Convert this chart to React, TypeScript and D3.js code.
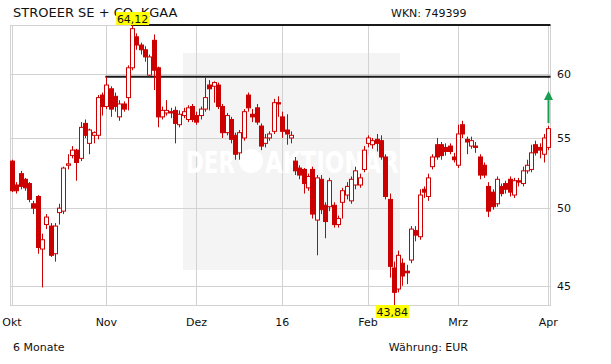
import React from "react";
import * as d3 from "d3";

const title = "STROEER SE + CO. KGAA";
const wkn = "WKN: 749399";
const periodLabel = "6 Monate";
const currencyLabel = "Währung: EUR";

const openVals = [
  53.3, 51.6, 52.4, 52.0, 51.7, 50.3, 50.8, 47.3, 48.9, 48.8,
  47.0, 49.7, 49.8, 53.0, 53.7, 54.1, 53.5, 56.1, 54.6, 55.2,
  55.2, 58.3, 57.4, 58.8, 58.2, 56.6, 57.6, 58.1, 60.5, 63.1,
  62.4, 62.0, 59.9, 62.8, 60.5, 56.6, 56.9, 57.0, 57.1, 56.0,
  56.7, 56.4, 57.4, 56.7, 56.7, 57.2, 59.1, 59.0, 59.1, 57.4,
  55.4, 56.4, 55.2, 53.9, 55.0, 58.3, 56.8, 57.3, 55.9, 54.6,
  55.0, 55.5, 57.7, 56.6, 55.6, 55.0, 53.3, 52.8, 52.7, 51.4,
  52.7, 49.2, 52.0, 50.2, 50.1, 50.2, 48.9, 50.4, 50.9, 50.5,
  51.6, 51.6, 52.7, 54.6, 54.5, 54.9, 54.8, 53.6, 50.6, 46.1,
  44.8, 46.4, 45.9, 46.6, 48.5, 48.1, 51.3, 50.8, 52.9, 54.5,
  54.5, 54.3, 54.4, 53.6, 53.0, 56.0, 54.9, 54.4, 54.4, 53.6,
  53.0, 51.5, 51.1, 50.3, 51.5, 51.7, 52.0, 50.9, 51.9, 51.7,
  52.6, 52.7, 54.5, 54.3, 53.8, 54.3,
];
const highVals = [
  53.4, 51.8, 52.6, 52.1, 51.8, 50.5, 50.9, 48.3, 49.6, 49.0,
  49.0, 50.3, 52.9, 53.8, 54.4, 54.2, 56.2, 56.4, 55.7, 55.5,
  58.3, 58.5, 59.76, 59.0, 58.5, 57.9, 57.8, 60.7, 64.12, 63.4,
  62.6, 62.3, 61.6, 63.3, 60.6, 57.4, 57.9, 57.3, 57.4, 57.1,
  57.3, 57.5, 57.6, 57.0, 57.4, 59.7, 59.5, 59.4, 59.3, 57.6,
  56.9, 56.6, 55.4, 55.6, 57.2, 58.5, 57.2, 57.6, 56.1, 55.3,
  55.5, 58.0, 58.2, 57.0, 56.8, 55.5, 53.6, 53.0, 52.8, 52.4,
  52.9, 52.3, 52.3, 50.4, 52.1, 50.4, 49.5, 51.4, 51.8, 52.2,
  52.9, 52.4, 54.4, 55.2, 55.0, 55.3, 55.2, 53.8, 51.0, 46.5,
  47.2, 46.7, 46.3, 48.8, 48.8, 51.3, 51.5, 52.4, 53.8, 55.0,
  54.7, 54.6, 54.6, 53.9, 56.0, 56.3, 55.1, 55.1, 54.7, 53.8,
  53.2, 51.8, 51.3, 52.2, 51.7, 51.9, 52.2, 52.1, 52.1, 52.9,
  53.4, 54.5, 54.8, 54.6, 55.3, 55.9,
];
const lowVals = [
  51.1, 51.0, 51.3, 51.2, 50.4, 49.6, 47.0, 44.9, 48.6, 46.8,
  46.5, 48.9, 49.6, 52.7, 53.5, 51.9, 53.3, 55.0, 53.8, 54.6,
  54.9, 56.7, 57.2, 56.6, 57.0, 56.3, 57.0, 57.1, 60.3, 62.0,
  61.6, 61.0, 59.7, 58.7, 55.8, 56.4, 56.7, 56.5, 54.6, 55.8,
  56.5, 56.2, 56.2, 56.0, 56.4, 57.0, 57.1, 57.7, 57.2, 55.0,
  55.2, 54.6, 53.4, 53.4, 54.8, 57.0, 56.2, 56.0, 54.1, 54.3,
  54.8, 55.3, 56.6, 55.0, 54.5, 54.6, 52.3, 52.0, 51.0, 51.2,
  49.3, 46.9, 49.6, 48.0, 49.8, 48.7, 48.7, 49.3, 50.6, 50.3,
  51.3, 51.4, 52.5, 54.3, 54.2, 54.0, 53.4, 50.6, 45.5, 43.84,
  44.6, 45.0, 45.1, 46.4, 47.8, 47.9, 50.7, 50.5, 52.7, 53.4,
  53.4, 53.7, 53.8, 53.2, 52.8, 55.0, 53.8, 54.2, 53.9, 52.0,
  52.1, 49.4, 49.9, 50.1, 50.8, 51.0, 50.8, 50.7, 51.5, 51.5,
  52.4, 52.5, 53.7, 53.5, 53.2, 54.1,
];
const closeVals = [
  51.2, 51.2, 51.5, 51.4, 50.6, 50.0, 47.4, 47.9, 49.4, 46.9,
  48.8, 50.0, 52.8, 53.1, 54.1, 53.2, 55.8, 55.2, 55.6, 55.4,
  58.1, 57.4, 59.1, 57.2, 57.4, 57.6, 57.2, 60.5, 63.8, 62.4,
  62.0, 61.4, 61.4, 60.3, 56.6, 57.1, 57.1, 56.9, 56.1, 56.8,
  57.0, 57.3, 56.4, 56.2, 57.2, 58.1, 58.8, 59.3, 57.4, 55.4,
  56.7, 54.9, 53.8, 55.4, 57.0, 57.3, 56.6, 56.2, 54.4, 55.0,
  55.3, 57.7, 57.6, 55.5, 55.3, 55.2, 52.6, 52.3, 51.7, 52.2,
  49.6, 52.1, 49.9, 49.1, 51.9, 48.9, 49.3, 51.2, 51.5, 52.0,
  52.6, 52.1, 54.1, 55.0, 54.8, 54.6, 53.6, 50.8, 46.2, 44.6,
  46.9, 45.6, 45.8, 48.6, 48.2, 50.9, 51.1, 52.1, 53.6, 53.6,
  53.7, 54.0, 54.0, 53.4, 55.3, 55.3, 54.7, 54.8, 54.3, 52.3,
  52.3, 49.8, 50.1, 52.0, 51.0, 51.3, 51.1, 51.9, 51.8, 52.6,
  53.0, 53.9, 53.9, 54.1, 55.0, 55.7,
];

const monthTickIdx = [0, 22, 43, 63, 83, 104, 125];
const monthTickLabels = ["Okt", "Nov", "Dez", "16", "Feb", "Mrz", "Apr"];
const priceTicks = [45, 50, 55, 60];

const FONT = "'DejaVu Sans', Verdana, sans-serif";
const RED = "#cc0000";
const GRID = "#d2d2d2";

function fmt(v: number) {
  return v.toFixed(2).replace(".", ",");
}

export default function App() {
  const W = 611;
  const H = 364;
  const n = closeVals.length;
  const x = d3.scaleLinear().domain([0, n - 1]).range([12, 548.3]);
  const y = d3.scaleLog().domain([43.84, 64.12]).range([305, 25]);

  const left = 10.5;
  const right = 550.5;
  const top = 25.5;
  const bottom = 305.5;

  const hiIdx = d3.maxIndex(highVals);
  const loIdx = d3.minIndex(lowVals);
  const resIdx = 22;

  const px = (v: number) => Math.round(v) + 0.5;

  return (
    <svg
      width={W}
      height={H}
      style={{ position: "absolute", left: 0, top: 0, background: "#fff" }}
      fontFamily={FONT}
    >
      <rect x={0} y={0} width={W} height={H} fill="#fff" />
      {/* watermark box */}
      <rect x={183} y={53} width={217} height={217} fill="#f4f4f4" />
      {/* grid */}
      {priceTicks.map((t) => (
        <line key={"h" + t} x1={left} x2={right} y1={px(y(t))} y2={px(y(t))} stroke={GRID} />
      ))}
      {monthTickIdx.map((i) => (
        <line key={"v" + i} x1={px(x(i))} x2={px(x(i))} y1={top} y2={bottom} stroke={GRID} />
      ))}
      <rect x={left} y={top} width={right - left} height={bottom - top} fill="none" stroke={GRID} />
      {/* watermark text */}
      <g fill="#ffffff" fontWeight="bold" fontSize={31}>
        <text x={186} y={173} textLength={49} lengthAdjust="spacingAndGlyphs">DER</text>
        <circle cx={251} cy={161} r={12} fill="#ffffff" />
        <text x={265} y={173} textLength={134} lengthAdjust="spacingAndGlyphs">AKTIONÄR</text>
      </g>
      {/* level lines */}
      <line x1={x(hiIdx) - 1} x2={right} y1={y(highVals[hiIdx])} y2={y(highVals[hiIdx])} stroke="#1a1a1a" strokeWidth={2} />
      <line x1={x(resIdx) - 1} x2={right} y1={y(highVals[resIdx])} y2={y(highVals[resIdx])} stroke="#1a1a1a" strokeWidth={2} />
      {/* candles */}
      {closeVals.map((c, i) => {
        const o = openVals[i];
        const up = c >= o;
        const cx = x(i);
        const yTop = y(Math.max(o, c));
        const yBot = y(Math.min(o, c));
        const wx = Math.round(cx) + 0.5;
        return (
          <g key={i}>
            <line x1={wx} x2={wx} y1={y(highVals[i])} y2={y(lowVals[i])} stroke={RED} strokeWidth={1} />
            <rect
              x={Math.round(cx) - 1.5}
              y={yTop}
              width={4}
              height={Math.max(1, yBot - yTop)}
              fill={up ? "#ffffff" : RED}
              stroke={RED}
              strokeWidth={1}
            />
          </g>
        );
      })}
      {/* arrow */}
      <line x1={548.5} x2={548.5} y1={123} y2={98} stroke="#1a9e52" strokeWidth={2} />
      <path d="M544,100 L548.5,91 L553,100 Z" fill="#1a9e52" />
      {/* title */}
      <text x={13} y={17} fontSize={13} fill="#111">{title}</text>
      <text x={391} y={17} fontSize={11} fill="#111">{wkn}</text>
      {/* high/low labels */}
      <rect x={x(hiIdx) - 16} y={12} width={33} height={13} fill="#ffff00" />
      <text x={x(hiIdx) + 0.5} y={22.5} fontSize={11} textAnchor="middle" fill="#111">{fmt(highVals[hiIdx])}</text>
      <rect x={x(loIdx) - 18} y={305} width={33} height={13} fill="#ffff00" />
      <text x={x(loIdx) - 1.5} y={315.5} fontSize={11} textAnchor="middle" fill="#111">{fmt(lowVals[loIdx])}</text>
      {/* y labels */}
      {priceTicks.map((t) => (
        <text key={"yl" + t} x={557} y={y(t) + 4} fontSize={11} fill="#111">{t}</text>
      ))}
      {/* x labels */}
      {monthTickIdx.map((i, k) => (
        <text key={"xl" + i} x={x(i)} y={326} fontSize={11} textAnchor="middle" fill="#111">
          {monthTickLabels[k]}
        </text>
      ))}
      <text x={13} y={351} fontSize={11} fill="#111">{periodLabel}</text>
      <text x={468} y={351} fontSize={11} textAnchor="end" fill="#111">{currencyLabel}</text>
    </svg>
  );
}
